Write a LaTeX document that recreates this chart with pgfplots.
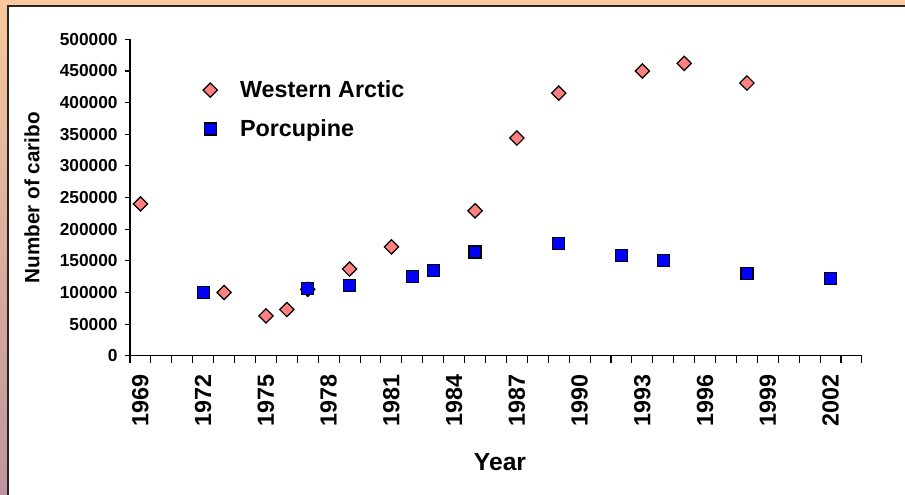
\documentclass[border=0pt]{standalone}
\usepackage{pgfplots}
\pgfplotsset{compat=1.18}
\usepackage{fontspec}
\setmainfont{Liberation Sans}

\definecolor{wacol}{HTML}{FF8080}
\definecolor{bgtop}{HTML}{F9C89C}
\definecolor{bgbot}{HTML}{BF949E}

\begin{document}
\begin{tikzpicture}
% slide background and white chart area (1px = 0.75pt)
\begin{scope}[x=0.75pt,y=0.75pt]
\useasboundingbox (0,0) rectangle (905,494);
\fill[white] (0,0) rectangle (905,494);
\shade[top color=bgtop, bottom color=bgbot] (0,0) rectangle (12,494);
\fill[bgtop] (0,484) rectangle (905,494);
\fill[white] (8,-10) rectangle (915,488);
\draw[line width=1.2pt, black!85] (8,-10) -- (8,488) -- (915,488);
\end{scope}

\begin{axis}[
    at={(97.5pt,103.7pt)}, anchor=south west,
    scale only axis, width=549pt, height=237.3pt,
    xmin=1968.5, xmax=2003.5,
    ymin=0, ymax=500000,
    axis x line*=bottom, axis y line*=left,
    axis line style={line width=0.9pt, black},
    tick align=outside,
    xtick={1969,1972,...,2002},
    minor xtick={1968.5,1969.5,...,2003.5},
    major x tick style={draw=none},
    minor x tick style={black, line width=0.8pt},
    minor tick length=5.25pt,
    major tick length=3.75pt,
    ytick={0,50000,...,500000},
    y tick style={black, line width=0.8pt},
    scaled y ticks=false,
    /pgf/number format/fixed,
    /pgf/number format/1000 sep={},
    /pgf/number format/assume math mode=true,
    yticklabel style={font=\fontsize{13}{15}\selectfont\bfseries, xshift=-2pt},
    xticklabel style={rotate=90, anchor=east, xshift=-7pt,
        font=\fontsize{17.5}{20}\selectfont\bfseries},
    xlabel={Year},
    xlabel style={at={(axis description cs:0.5055,-0.336)}, anchor=center,
        font=\fontsize{18.5}{21}\selectfont\bfseries},
    ylabel={Number of caribo},
    ylabel style={at={(axis description cs:-0.134,0.5)}, anchor=center,
        font=\fontsize{15.5}{18}\selectfont\bfseries},
    legend style={draw=none, fill=none, at={(0.094,0.887)}, anchor=north west,
        font=\fontsize{17.5}{20}\selectfont\bfseries, row sep=11pt, column sep=15pt},
    legend cell align=left,
]

% Western Arctic herd
\addplot[only marks, mark=square*, mark size=3.8pt,
    mark options={rotate=45, fill=wacol, draw=black, line width=0.9pt}]
    coordinates {
    (1969,240000)(1973,100000)(1975,63000)(1976,73000)(1977,105000)
    (1979,137000)(1981,172000)(1985,229000)(1987,344000)(1989,415000)
    (1993,450000)(1995,462000)(1998,431000)
    };
\addlegendentry{Western Arctic}

% Porcupine herd
\addplot[only marks, mark=square*, mark size=4.5pt,
    mark options={fill=blue, draw=black, line width=0.9pt}]
    coordinates {
    (1972,100000)(1977,106000)(1979,111000)(1982,125000)(1983,135000)
    (1985,164000)(1989,177000)(1992,159000)(1994,151000)(1998,130000)
    (2002,122000)
    };
\addlegendentry{Porcupine}

\end{axis}
\end{tikzpicture}
\end{document}
